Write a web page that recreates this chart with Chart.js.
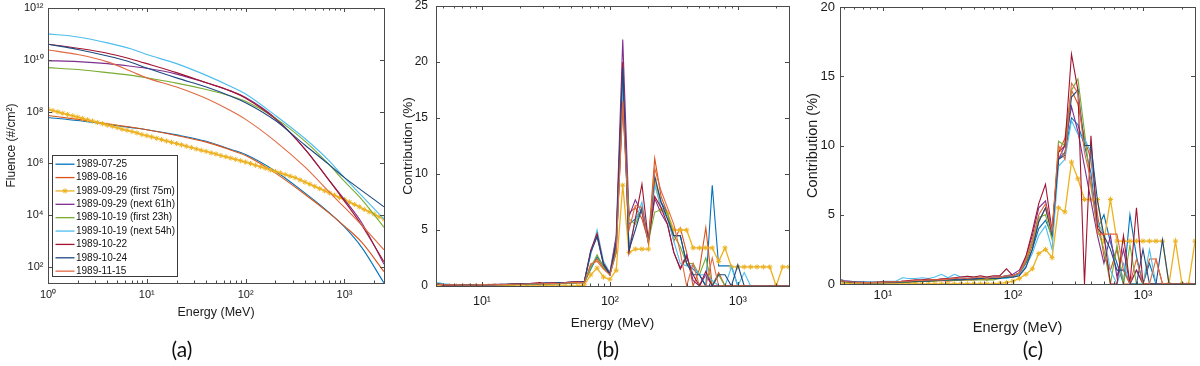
<!DOCTYPE html>
<html>
<head>
<meta charset="utf-8">
<script src="https://cdn.jsdelivr.net/npm/chart.js@4.4.0/dist/chart.umd.min.js"></script>
<style>
  html, body { margin: 0; padding: 0; background: #fff; }
  #wrap { position: relative; width: 1200px; height: 366px; overflow: hidden; }
  #wrap canvas { position: absolute; top: 0; }
  .tag { position: absolute; font-family: Lato, 'Open Sans', sans-serif; font-size: 21px; color: #111;
         transform: translate(-50%, -50%); white-space: nowrap; }
</style>
</head>
<body>
<div id="wrap">
  <canvas id="chartA" width="400" height="366" style="left:0px"></canvas>
  <canvas id="chartB" width="400" height="366" style="left:400px"></canvas>
  <canvas id="chartC" width="400" height="366" style="left:800px"></canvas>
  <div class="tag" style="left:182px; top:348px">(a)</div>
  <div class="tag" style="left:608px; top:348px">(b)</div>
  <div class="tag" style="left:1033px; top:348px">(c)</div>
</div>
<script>
// --- series names and colours (same order in all three panels) ---
const seriesLabels = ['1989-07-25', '1989-08-16', '1989-09-29 (first 75m)', '1989-09-29 (next 61h)',
  '1989-10-19 (first 23h)', '1989-10-19 (next 54h)', '1989-10-22', '1989-10-24', '1989-11-15'];
const seriesColors = ['#0072BD', '#D95319', '#EDB120', '#7E2F8E', '#77AC30', '#4DBEEE', '#A2142F', '#1f4a80', '#e06a42'];

// --- panel (a): fluence spectra ---
const energyA = [1, 2, 4, 7, 10, 20, 40, 70, 100, 200, 400, 700, 1000, 1500, 2512];
const fluence0725 = [5.9e7, 4.5e7, 3.2e7, 2.4e7, 2.0e7, 1.26e7, 7.1e6, 3.5e6, 2.2e6, 5.0e5, 7.1e4, 1.26e4, 3.5e3, 560, 24];
const fluence0816 = [7.1e7, 5.0e7, 3.4e7, 2.5e7, 2.0e7, 1.2e7, 6.6e6, 3.3e6, 2.0e6, 4.2e5, 6.3e4, 1.2e4, 3.8e3, 890, 66];
const fluence0929n = [9.3e9, 8.5e9, 7.1e9, 5.6e9, 4.7e9, 2.8e9, 1.3e9, 6.3e8, 3.5e8, 5.6e7, 3.5e6, 2.2e5, 4.0e4, 5.0e3, 126];
const fluence1019f = [5.0e9, 4.2e9, 3.2e9, 2.5e9, 2.0e9, 1.26e9, 7.1e8, 4.0e8, 2.5e8, 5.6e7, 7.1e6, 8.9e5, 2.0e5, 4.0e4, 3.4e3];
const fluence1019n = [1.0e11, 7.6e10, 4.5e10, 2.6e10, 1.6e10, 7.1e9, 2.5e9, 9.5e8, 4.8e8, 7.1e7, 8.9e6, 1.26e6, 2.8e5, 5.6e4, 7.1e3];
const fluence1022 = [4.0e10, 2.8e10, 1.8e10, 1.05e10, 7.1e9, 3.2e9, 1.3e9, 6.3e8, 3.3e8, 5.2e7, 3.5e6, 2.2e5, 3.5e4, 4.0e3, 158];
const fluence1024 = [4.0e10, 2.5e10, 1.4e10, 7.9e9, 4.8e9, 2.0e9, 8.9e8, 4.0e8, 2.2e8, 4.5e7, 5.0e6, 8.9e5, 2.8e5, 8.9e4, 2.1e4];
const fluence1115 = [2.4e10, 1.6e10, 8.3e9, 3.5e9, 2.0e9, 8.9e8, 3.2e8, 1.1e8, 5.0e7, 7.1e6, 7.1e5, 7.9e4, 2.0e4, 4.0e3, 457];

// the marked series is sampled much more densely
const energyA_first75m = [1, 1.12, 1.26, 1.41, 1.58, 1.78, 2.0, 2.24, 2.51, 2.82,
  3.16, 3.55, 3.98, 4.47, 5.01, 5.62, 6.31, 7.08, 7.94, 8.91,
  10, 11.2, 12.6, 14.1, 15.8, 17.8, 20, 22.4, 25.1, 28.2,
  31.6, 35.5, 39.8, 44.7, 50.1, 56.2, 63.1, 70.8, 79.4, 89.1,
  100, 112, 126, 141, 158, 178, 200, 224, 251, 282,
  316, 355, 398, 447, 501, 562, 631, 708, 794, 891,
  1000, 1122, 1259, 1413, 1585, 1778, 1995, 2239, 2512];
const fluence0929f = [1.23e8, 1.09e8, 9.7e7, 8.6e7, 7.7e7, 6.8e7, 6.1e7, 5.4e7, 4.8e7, 4.3e7,
  3.8e7, 3.4e7, 3.0e7, 2.7e7, 2.4e7, 2.1e7, 1.9e7, 1.7e7, 1.5e7, 1.3e7,
  1.17e7, 1.05e7, 9.3e6, 8.3e6, 7.3e6, 6.5e6, 5.8e6, 5.2e6, 4.6e6, 4.1e6,
  3.6e6, 3.2e6, 2.9e6, 2.55e6, 2.3e6, 2.0e6, 1.8e6, 1.6e6, 1.42e6, 1.26e6,
  1.12e6, 9.8e5, 8.5e5, 7.4e5, 6.5e5, 5.6e5, 4.9e5, 4.3e5, 3.7e5, 3.2e5,
  2.8e5, 2.3e5, 1.9e5, 1.57e5, 1.29e5, 1.06e5, 8.7e4, 7.2e4, 5.9e4, 4.8e4,
  4.0e4, 3.2e4, 2.6e4, 2.1e4, 1.66e4, 1.35e4, 1.1e4, 8.7e3, 7.1e3];

// --- panels (b) and (c): contribution (%) on a shared energy grid ---
const energyBC = [4.47, 5.01, 5.62, 6.31, 7.08, 7.94, 8.91, 10, 11.2, 12.6,
  14.1, 15.8, 17.8, 20, 22.4, 25.1, 28.2, 31.6, 35.5, 39.8,
  44.7, 50.1, 56.2, 63.1, 70.8, 79.4, 89.1, 100, 112, 126,
  141, 158, 178, 200, 224, 251, 282, 316, 355, 398,
  447, 501, 562, 631, 708, 794, 891, 1000, 1122, 1259,
  1413, 1585, 1778, 1995, 2239, 2512];

const contribB0725 = [0.25, 0.15, 0.1, 0.1, 0.08, 0.08, 0.08, 0.08, 0.1, 0.1, 0.1, 0.12, 0.15, 0.15, 0.12, 0.15, 0.18, 0.15, 0.2, 0.2, 0.22, 0.25, 0.3,
  0.3, 1.5, 2.6, 1.8, 1.0, 3.0, 17.0, 5.5, 6.0, 6.8, 3.8, 9.5, 7.5, 6.5, 4.5, 4.5, 2.0, 1.5, 1.0, 0, 9.0, 1.8, 1.8, 1.8, 0, 0, 0, 0, 0, 0, 0, 0, 0];
const contribB0816 = [0.2, 0.12, 0.1, 0.08, 0.08, 0.1, 0.08, 0.1, 0.1, 0.08, 0.1, 0.1, 0.12, 0.15, 0.15, 0.18, 0.15, 0.2, 0.18, 0.22, 0.25, 0.28, 0.3,
  0.3, 1.8, 2.4, 1.6, 1.0, 3.5, 16.0, 6.5, 7.0, 6.0, 4.0, 11.4, 8.0, 6.5, 4.0, 5.2, 3.0, 0, 1.5, 5.2, 0, 1.2, 0, 0, 0, 0, 0, 0, 0, 0, 0, 0, 0];
const contribB0929f = [0, 0, 0, 0, 0, 0, 0, 0, 0, 0, 0, 0, 0, 0, 0, 0, 0, 0, 0, 0, 0, 0, 0,
  0.1, 1.0, 1.6, 0.8, 0.6, 1.4, 9.0, 3.0, 3.3, 3.3, 3.3, 9.5, 6.8, 6.5, 5.0, 5.0, 5.0, 3.4, 3.4, 3.4, 3.4, 2.2, 3.4, 1.7, 1.7, 1.7, 1.7, 1.7, 1.7, 1.7, 0, 1.7, 1.7];
const contribB0929n = [0.15, 0.1, 0.1, 0.12, 0.1, 0.1, 0.12, 0.1, 0.1, 0.12, 0.15, 0.15, 0.2, 0.18, 0.2, 0.25, 0.22, 0.25, 0.3, 0.25, 0.3, 0.35, 0.4,
  0.4, 3.0, 4.5, 2.0, 1.2, 4.5, 22.0, 6.2, 7.7, 6.5, 4.0, 7.8, 6.5, 5.5, 3.0, 1.6, 2.8, 0.5, 0, 1.0, 0, 0, 0, 0, 0, 0, 0, 0, 0, 0, 0, 0, 0];
const contribB1019f = [0.2, 0.15, 0.12, 0.1, 0.1, 0.08, 0.1, 0.1, 0.08, 0.1, 0.12, 0.1, 0.12, 0.15, 0.12, 0.15, 0.18, 0.2, 0.2, 0.18, 0.22, 0.25, 0.3,
  0.3, 1.6, 2.8, 1.7, 1.0, 3.2, 17.5, 6.0, 5.5, 7.0, 4.0, 6.6, 6.8, 6.5, 4.5, 3.5, 2.0, 2.0, 1.0, 2.5, 0, 1.0, 0, 0, 0, 0, 0, 0, 0, 0, 0, 0, 0];
const contribB1019n = [0.3, 0.2, 0.15, 0.12, 0.12, 0.1, 0.1, 0.12, 0.1, 0.12, 0.12, 0.15, 0.15, 0.2, 0.18, 0.2, 0.2, 0.25, 0.2, 0.25, 0.3, 0.3, 0.35,
  0.4, 2.8, 5.0, 2.2, 1.2, 4.0, 18.0, 3.5, 5.8, 7.5, 4.0, 9.0, 7.0, 6.0, 4.0, 2.0, 1.8, 1.8, 1.0, 1.0, 0.5, 0, 0, 1.7, 0, 1.2, 0, 0, 0, 0, 0, 0, 0];
const contribB1022 = [0.15, 0.1, 0.08, 0.1, 0.12, 0.1, 0.1, 0.1, 0.12, 0.15, 0.12, 0.15, 0.2, 0.22, 0.2, 0.25, 0.3, 0.25, 0.28, 0.3, 0.3, 0.35, 0.4,
  0.4, 3.2, 4.7, 2.0, 1.1, 4.0, 20.0, 3.0, 6.0, 9.1, 4.0, 8.0, 7.0, 5.5, 3.0, 1.5, 2.6, 1.0, 0, 1.3, 0, 0, 0, 0, 0, 0, 0, 0, 0, 0, 0, 0, 0];
const contribB1024 = [0.2, 0.12, 0.1, 0.1, 0.1, 0.12, 0.1, 0.1, 0.12, 0.1, 0.15, 0.15, 0.18, 0.2, 0.2, 0.22, 0.2, 0.28, 0.25, 0.3, 0.3, 0.32, 0.35,
  0.4, 3.0, 4.4, 1.9, 1.0, 3.8, 19.5, 3.2, 5.0, 7.0, 4.0, 9.8, 7.5, 6.0, 4.5, 4.5, 2.0, 1.0, 1.0, 0, 0, 1.0, 1.0, 0, 1.9, 0, 0, 0, 0, 0, 0, 0, 0];
const contribB1115 = [0.18, 0.12, 0.1, 0.1, 0.1, 0.08, 0.1, 0.12, 0.1, 0.1, 0.12, 0.12, 0.15, 0.15, 0.18, 0.2, 0.2, 0.22, 0.25, 0.22, 0.28, 0.3, 0.32,
  0.3, 2.0, 2.2, 1.5, 1.0, 3.0, 16.5, 5.0, 7.2, 7.0, 3.8, 10.5, 8.5, 7.0, 5.5, 3.0, 0, 2.0, 0, 0, 2.5, 0, 0, 0, 0, 0, 0, 0, 0, 0, 0, 0, 0];

const contribC0725 = [0.3, 0.2, 0.15, 0.1, 0.1, 0.1, 0.1, 0.1, 0.1, 0.1, 0.15, 0.2, 0.2, 0.2, 0.25, 0.25, 0.3, 0.3, 0.35, 0.3, 0.35, 0.4, 0.4,
  0.4, 0.5, 0.5, 0.6, 0.6, 0.8, 1.5, 2.5, 4.0, 4.6, 3.5, 9.0, 9.5, 12.0, 11.5, 10.0, 8.0, 4.0, 5.0, 3.0, 1.5, 0, 5.0, 2.0, 0, 1.5, 0, 0, 0, 0, 0, 0, 0];
const contribC0816 = [0.25, 0.15, 0.12, 0.1, 0.1, 0.08, 0.1, 0.1, 0.1, 0.12, 0.12, 0.15, 0.15, 0.2, 0.2, 0.22, 0.25, 0.2, 0.25, 0.3, 0.3, 0.3, 0.35,
  0.3, 0.4, 0.4, 0.5, 0.5, 0.7, 1.6, 2.8, 4.5, 5.5, 3.6, 9.5, 10.5, 14.0, 13.0, 10.5, 9.0, 5.0, 2.0, 1.0, 2.5, 0, 0, 1.0, 0, 1.8, 1.8, 0, 0, 0, 0, 0, 0];
const contribC0929f = [0, 0, 0, 0, 0, 0, 0, 0, 0, 0, 0, 0, 0, 0, 0, 0, 0, 0, 0, 0, 0, 0, 0,
  0, 0, 0.05, 0.1, 0.2, 0.4, 0.7, 1.1, 2.2, 2.5, 1.9, 5.5, 5.2, 8.8, 7.6, 6.1, 6.1, 6.1, 3.1, 6.1, 3.1, 3.1, 3.1, 3.1, 3.1, 3.1, 3.1, 3.1, 0, 3.1, 0, 0, 3.1];
const contribC0929n = [0.4, 0.25, 0.2, 0.15, 0.15, 0.12, 0.12, 0.12, 0.15, 0.15, 0.2, 0.2, 0.25, 0.25, 0.3, 0.3, 0.35, 0.35, 0.4, 0.35, 0.4, 0.45, 0.4,
  0.4, 0.5, 0.5, 0.6, 0.7, 1.0, 2.0, 3.5, 5.5, 6.0, 3.8, 9.0, 10.0, 12.8, 11.0, 8.5, 6.0, 3.5, 1.5, 3.5, 0.5, 2.5, 0, 1.0, 0, 0, 0, 0, 0, 0, 0, 0, 0];
const contribC1019f = [0.2, 0.15, 0.1, 0.1, 0.1, 0.1, 0.1, 0.1, 0.1, 0.1, 0.12, 0.15, 0.15, 0.18, 0.2, 0.2, 0.25, 0.25, 0.25, 0.3, 0.3, 0.3, 0.3,
  0.3, 0.3, 0.4, 0.5, 0.5, 0.8, 1.7, 3.0, 4.8, 5.0, 3.2, 10.3, 10.0, 14.0, 14.8, 11.0, 7.0, 4.0, 2.5, 0, 2.8, 0, 2.8, 0, 0, 0, 0, 0, 0, 0, 0, 0, 0];
const contribC1019n = [0.4, 0.2, 0.2, 0.15, 0.15, 0.15, 0.15, 0.2, 0.2, 0.2, 0.45, 0.4, 0.4, 0.45, 0.4, 0.5, 0.7, 0.45, 0.7, 0.5, 0.55, 0.5, 0.5,
  0.5, 0.5, 0.4, 0.4, 0.5, 0.7, 1.3, 2.2, 3.5, 4.2, 2.5, 8.5, 9.0, 11.8, 10.8, 10.5, 9.5, 4.5, 3.5, 1.0, 0, 1.5, 0, 0, 0, 2.5, 0, 0, 0, 0, 0, 0, 0];
const contribC1022 = [0.35, 0.2, 0.15, 0.12, 0.12, 0.1, 0.12, 0.15, 0.15, 0.15, 0.2, 0.25, 0.3, 0.3, 0.35, 0.3, 0.35, 0.4, 0.45, 0.5, 0.55, 0.5, 0.6,
  0.5, 0.6, 0.6, 1.1, 0.6, 0.8, 2.0, 3.8, 5.8, 7.2, 3.8, 9.5, 10.0, 16.6, 14.0, 0, 10.7, 4.0, 3.5, 0, 0, 3.5, 0, 5.5, 0, 0, 0, 0, 0, 0, 0, 0, 0];
const contribC1024 = [0.3, 0.2, 0.15, 0.12, 0.1, 0.1, 0.1, 0.1, 0.12, 0.12, 0.15, 0.15, 0.2, 0.2, 0.2, 0.25, 0.25, 0.3, 0.3, 0.3, 0.35, 0.35, 0.4,
  0.4, 0.4, 0.4, 0.5, 0.5, 0.6, 1.2, 2.5, 4.5, 5.5, 3.6, 9.0, 9.3, 13.5, 14.0, 10.0, 10.0, 6.0, 3.5, 2.5, 1.0, 1.0, 0, 0, 2.5, 0, 0, 3.2, 0, 0, 0, 0, 0];
const contribC1115 = [0.3, 0.2, 0.15, 0.1, 0.1, 0.1, 0.12, 0.12, 0.15, 0.15, 0.2, 0.2, 0.25, 0.25, 0.3, 0.3, 0.3, 0.35, 0.4, 0.45, 0.4, 0.45, 0.5,
  0.4, 0.5, 0.5, 0.6, 0.6, 0.8, 1.8, 3.2, 5.0, 5.8, 3.8, 10.0, 9.0, 14.5, 13.8, 9.5, 7.5, 3.6, 3.6, 3.6, 3.6, 1.0, 0, 1.8, 0, 0, 1.8, 0, 0, 0, 0, 0, 0];

// --- tick values ---
const ticksA_x = [1, 10, 100, 1000];
const ticksA_y = [1e2, 1e4, 1e6, 1e8, 1e10, 1e12];
const ticksBC_x = [10, 100, 1000];
const ticksB_y = [0, 5, 10, 15, 20, 25];
const ticksC_y = [0, 5, 10, 15, 20];

const FONT = "'Liberation Sans', Arial, Helvetica, sans-serif";
const TEXT = '#1a1a1a';
const AXIS = '#4a4a4a';

const SUP = { '0': '⁰', '1': '¹', '2': '²', '3': '³', '4': '⁴', '5': '⁵', '6': '⁶', '7': '⁷', '8': '⁸', '9': '⁹' };
function powLabel(v) {
  const e = Math.round(Math.log10(v));
  return '10' + String(e).split('').map(c => SUP[c]).join('');
}

// minor tick positions for a log axis (2..9 in each decade)
function minorLogTicks(min, max) {
  const out = [];
  for (let d = 1; d <= 1000; d *= 10) {
    for (let m = 2; m <= 9; m++) {
      const v = m * d;
      if (v > min && v < max) out.push(v);
    }
  }
  return out;
}

// box round the plot area with inward ticks on all four sides (matlab look)
function boxPlugin(xMajor, xMinor, yMajor) {
  return {
    id: 'boxTicks',
    afterDatasetsDraw(chart) {
      const { ctx, chartArea, scales } = chart;
      const l = Math.round(chartArea.left), r = Math.round(chartArea.right);
      const t = Math.round(chartArea.top), b = Math.round(chartArea.bottom);
      ctx.save();
      ctx.strokeStyle = AXIS;
      ctx.lineWidth = 1;
      ctx.beginPath();
      const tickX = (v, len) => {
        const px = Math.round(scales.x.getPixelForValue(v)) + 0.5;
        ctx.moveTo(px, b); ctx.lineTo(px, b - len);
        ctx.moveTo(px, t); ctx.lineTo(px, t + len);
      };
      const tickY = (v, len) => {
        const py = Math.round(scales.y.getPixelForValue(v)) + 0.5;
        ctx.moveTo(l, py); ctx.lineTo(l + len, py);
        ctx.moveTo(r, py); ctx.lineTo(r - len, py);
      };
      xMajor.forEach(v => tickX(v, 4));
      xMinor.forEach(v => tickX(v, 2.5));
      yMajor.forEach(v => tickY(v, 4));
      ctx.stroke();
      ctx.strokeRect(l + 0.5, t + 0.5, r - l, b - t);
      ctx.restore();
    }
  };
}

// legend drawn inside panel (a)
const insideLegend = {
  id: 'insideLegend',
  afterDraw(chart) {
    const ctx = chart.ctx;
    const x0 = 52.5, y0 = 155.5, w = 125, h = 121, step = 13.37;
    ctx.save();
    ctx.fillStyle = '#fff';
    ctx.fillRect(x0, y0, w, h);
    ctx.strokeStyle = '#3a3a3a';
    ctx.lineWidth = 1;
    ctx.strokeRect(x0, y0, w, h);
    ctx.font = '10px ' + FONT;
    ctx.textBaseline = 'middle';
    chart.data.datasets.forEach((ds, i) => {
      const yy = y0 + 8.7 + i * step;
      ctx.strokeStyle = ds.borderColor;
      ctx.fillStyle = ds.borderColor;
      ctx.lineWidth = 1.3;
      ctx.beginPath();
      ctx.moveTo(x0 + 3, yy);
      ctx.lineTo(x0 + 22, yy);
      ctx.stroke();
      if (ds.pointRadius > 0) {
        ctx.lineWidth = 1;
        Chart.helpers.drawPoint(ctx, { pointStyle: 'star', radius: 2.6, borderWidth: 1, rotation: 0 }, x0 + 12.5, yy);
      }
      ctx.fillStyle = '#111';
      ctx.fillText(ds.label, x0 + 23.5, yy);
    });
    ctx.restore();
  }
};

function makeDatasets(xLists, valueLists, smooth) {
  return valueLists.map((vals, i) => {
    const marked = i === 2;
    const xs = xLists[i];
    return {
      label: seriesLabels[i],
      data: vals.map((v, k) => ({ x: xs[k], y: v })),
      borderColor: seriesColors[i],
      backgroundColor: seriesColors[i],
      borderWidth: marked ? 1.3 : 1.1,
      pointRadius: marked ? 2.6 : 0,
      pointStyle: 'star',
      pointBorderWidth: 1,
      cubicInterpolationMode: smooth ? 'monotone' : 'default',
      tension: 0,
      order: valueLists.length - i   // later series on top, as in the original
    };
  });
}

function xLogAxis(min, max, majors, tickSize, tickPad, titleSize, height) {
  return {
    type: 'logarithmic', min: min, max: max,
    afterBuildTicks: ax => { ax.ticks = majors.map(v => ({ value: v })); },
    afterFit: ax => { ax.height = height; ax.paddingLeft = 0; ax.paddingRight = 0; },
    ticks: { callback: v => powLabel(v), font: { family: FONT, size: tickSize }, color: TEXT,
             padding: tickPad, maxRotation: 0, autoSkip: false },
    grid: { display: false, drawTicks: false },
    border: { display: false },
    title: { display: true, text: 'Energy (MeV)', font: { family: FONT, size: titleSize }, color: TEXT,
             padding: { top: 2, bottom: 4 } }
  };
}

function yAxis(type, min, max, majors, label, tickSize, tickPad, title, titleSize, width, titlePad) {
  return {
    type: type, min: min, max: max,
    afterBuildTicks: ax => { ax.ticks = majors.map(v => ({ value: v })); },
    afterFit: ax => { ax.width = width; ax.paddingTop = 0; ax.paddingBottom = 0; },
    ticks: { callback: label, font: { family: FONT, size: tickSize }, color: TEXT, padding: tickPad, autoSkip: false },
    grid: { display: false, drawTicks: false },
    border: { display: false },
    title: { display: true, text: title, font: { family: FONT, size: titleSize }, color: TEXT,
             padding: { top: titlePad, bottom: 2 } }
  };
}

function baseOptions(padding, xCfg, yCfg) {
  return {
    responsive: false,
    animation: false,
    events: [],
    layout: { padding: padding },
    plugins: { legend: { display: false }, tooltip: { enabled: false } },
    scales: { x: xCfg, y: yCfg }
  };
}

// (a)
const xA = [energyA, energyA, energyA_first75m, energyA, energyA, energyA, energyA, energyA, energyA];
new Chart(document.getElementById('chartA'), {
  type: 'line',
  data: { datasets: makeDatasets(xA, [fluence0725, fluence0816, fluence0929f, fluence0929n, fluence1019f,
                                      fluence1019n, fluence1022, fluence1024, fluence1115], true) },
  options: baseOptions({ left: 2.5, right: 16, top: 8, bottom: 41.5 },
    xLogAxis(1, 2512, ticksA_x, 11, 5, 12.5, 41.5),
    yAxis('logarithmic', 24, 1e12, ticksA_y, v => powLabel(v), 11, 4.5, 'Fluence (#/cm²)', 12, 45.5, 2)),
  plugins: [boxPlugin(ticksA_x, minorLogTicks(1, 2512), ticksA_y), insideLegend]
});

// (b)
const xBC = Array(9).fill(energyBC);
new Chart(document.getElementById('chartB'), {
  type: 'line',
  data: { datasets: makeDatasets(xBC, [contribB0725, contribB0816, contribB0929f, contribB0929n, contribB1019f,
                                       contribB1019n, contribB1022, contribB1024, contribB1115], false) },
  options: baseOptions({ left: 0, right: 11, top: 6, bottom: 31 },
    xLogAxis(4.37, 2512, ticksBC_x, 12.5, 8.5, 13.5, 49),
    yAxis('linear', 0, 25, ticksB_y, v => String(v), 12, 8, 'Contribution (%)', 13.5, 36, 0)),
  plugins: [boxPlugin(ticksBC_x, minorLogTicks(4.37, 2512), ticksB_y)]
});

// (c)
new Chart(document.getElementById('chartC'), {
  type: 'line',
  data: { datasets: makeDatasets(xBC, [contribC0725, contribC0816, contribC0929f, contribC0929n, contribC1019f,
                                       contribC1019n, contribC1022, contribC1024, contribC1115], false) },
  options: baseOptions({ left: 2.3, right: 4, top: 7, bottom: 25.3 },
    xLogAxis(4.68, 2512, ticksBC_x, 13, 3.5, 14.5, 56.7),
    yAxis('linear', 0, 20, ticksC_y, v => String(v), 13, 5, 'Contribution (%)', 14.5, 37.7, 2)),
  plugins: [boxPlugin(ticksBC_x, minorLogTicks(4.68, 2512), ticksC_y)]
});
</script>
</body>
</html>
